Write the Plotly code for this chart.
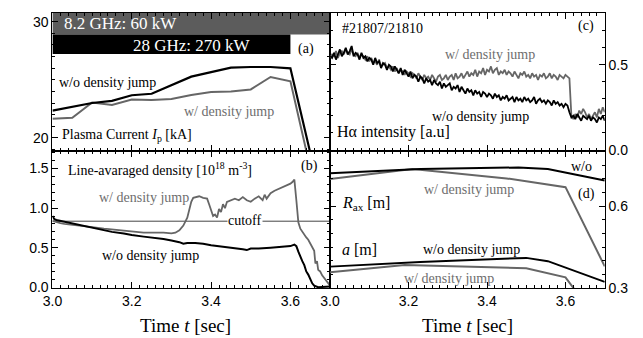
import plotly.graph_objects as go

W, H = 643, 338

# ---------------- data ----------------
# (a) plasma current [kA]
t_ip_wo = [3.00, 3.05, 3.10, 3.15, 3.20, 3.25, 3.30, 3.35, 3.40, 3.45, 3.50, 3.55, 3.60, 3.655]
ip_wo = [22.35, 22.69, 23.00, 23.19, 23.67, 23.80, 24.50, 25.27, 25.66, 26.05, 26.10, 26.10, 25.99, 18.0]
t_ip_w = [3.00, 3.05, 3.10, 3.15, 3.20, 3.25, 3.30, 3.35, 3.40, 3.45, 3.50, 3.55, 3.60, 3.646]
ip_w = [21.65, 21.74, 23.05, 22.83, 23.30, 23.25, 23.34, 23.70, 23.95, 24.00, 24.17, 25.24, 24.87, 18.0]
heating_82 = [3.0, 3.7]     # 8.2 GHz: 60 kW
heating_28 = [3.0, 3.6]     # 28 GHz: 270 kW

# (b) line-averaged density [1e18 m^-3]
t_n_w = [3.00, 3.01, 3.02, 3.03, 3.05, 3.08, 3.10, 3.13, 3.15, 3.18, 3.20, 3.23, 3.25, 3.28, 3.30,
         3.31, 3.32, 3.33, 3.34, 3.345, 3.35, 3.355, 3.36, 3.37, 3.38, 3.39, 3.395, 3.40, 3.405,
         3.41, 3.415, 3.42, 3.425, 3.43, 3.435, 3.44, 3.45, 3.46, 3.47, 3.48, 3.49, 3.50, 3.51,
         3.52, 3.53, 3.535, 3.54, 3.55, 3.56, 3.57, 3.58, 3.59, 3.60, 3.605, 3.61, 3.615, 3.62,
         3.625, 3.63, 3.64, 3.645, 3.65, 3.655, 3.66, 3.663, 3.667, 3.67, 3.675, 3.68, 3.69,
         3.695, 3.70]
n_w = [0.84, 0.82, 0.81, 0.80, 0.79, 0.77, 0.76, 0.74, 0.73, 0.71, 0.70, 0.69, 0.69, 0.69, 0.68,
       0.69, 0.72, 0.78, 0.88, 0.98, 1.08, 1.13, 1.14, 1.15, 1.13, 1.12, 1.05, 0.98, 0.90,
       0.92, 0.88, 0.99, 0.95, 1.05, 1.00, 1.08, 1.10, 1.12, 1.10, 1.14, 1.10, 1.08, 1.12,
       1.15, 1.10, 1.17, 1.12, 1.19, 1.22, 1.24, 1.26, 1.29, 1.31, 1.33, 1.36, 1.10, 0.82,
       0.74, 0.70, 0.63, 0.60, 0.55, 0.50, 0.46, 0.30, 0.33, 0.22, 0.20, 0.15, 0.08,
       0.04, 0.02]
t_n_wo = [3.00, 3.005, 3.01, 3.02, 3.05, 3.08, 3.10, 3.13, 3.15, 3.18, 3.20, 3.23, 3.25, 3.28,
          3.30, 3.32, 3.33, 3.34, 3.36, 3.38, 3.40, 3.42, 3.45, 3.48, 3.49, 3.50, 3.52, 3.55,
          3.58, 3.60, 3.61, 3.615, 3.62, 3.625, 3.63, 3.635, 3.64, 3.645, 3.65, 3.655, 3.66,
          3.67, 3.70]
n_wo = [0.90, 0.86, 0.85, 0.84, 0.80, 0.77, 0.75, 0.72, 0.70, 0.68, 0.66, 0.64, 0.63, 0.61,
        0.59, 0.57, 0.55, 0.56, 0.56, 0.55, 0.53, 0.52, 0.50, 0.48, 0.47, 0.49, 0.49, 0.50,
        0.51, 0.52, 0.54, 0.52, 0.45, 0.38, 0.33, 0.28, 0.20, 0.16, 0.10, 0.05, 0.02,
        0.00, 0.01]
cutoff_density = 0.835

# (c) H-alpha intensity [a.u.], sampled every 5 ms from 3.000 s to 3.700 s
t_ha = [round(3.0 + 0.005 * i, 3) for i in range(141)]
ha_wo = [0.55, 0.54, 0.57, 0.53, 0.56, 0.59, 0.55, 0.57, 0.60, 0.56, 0.58,
         0.61, 0.55, 0.57, 0.56, 0.53, 0.57, 0.54, 0.55, 0.52, 0.54,
         0.53, 0.50, 0.54, 0.51, 0.52, 0.48, 0.51, 0.50, 0.47, 0.50,
         0.49, 0.46, 0.49, 0.47, 0.45, 0.48, 0.44, 0.47, 0.45, 0.43,
         0.46, 0.42, 0.44, 0.43, 0.40, 0.43, 0.42, 0.39, 0.42, 0.40,
         0.41, 0.38, 0.41, 0.39, 0.38, 0.40, 0.36, 0.39, 0.37, 0.38,
         0.39, 0.35, 0.37, 0.36, 0.38, 0.34, 0.37, 0.35, 0.33, 0.36,
         0.34, 0.35, 0.32, 0.35, 0.33, 0.34, 0.31, 0.34, 0.33, 0.31,
         0.33, 0.32, 0.30, 0.33, 0.31, 0.32, 0.29, 0.31, 0.30, 0.32,
         0.29, 0.30, 0.31, 0.28, 0.31, 0.29, 0.30, 0.28, 0.31, 0.29,
         0.30, 0.28, 0.29, 0.31, 0.27, 0.29, 0.30, 0.28, 0.29, 0.27,
         0.29, 0.28, 0.26, 0.29, 0.27, 0.28, 0.26, 0.27, 0.25, 0.27,
         0.26, 0.22, 0.19, 0.20, 0.18, 0.21, 0.19, 0.17, 0.20, 0.19,
         0.18, 0.20, 0.17, 0.19, 0.18, 0.16, 0.19, 0.18, 0.20, 0.17]
ha_w = [0.54, 0.56, 0.55, 0.58, 0.54, 0.57, 0.58, 0.56, 0.59, 0.57, 0.56,
        0.59, 0.56, 0.55, 0.57, 0.54, 0.56, 0.55, 0.53, 0.55, 0.52,
        0.54, 0.51, 0.52, 0.50, 0.53, 0.49, 0.50, 0.51, 0.48, 0.49,
        0.47, 0.49, 0.46, 0.48, 0.45, 0.47, 0.46, 0.44, 0.46, 0.45,
        0.43, 0.45, 0.44, 0.42, 0.45, 0.43, 0.41, 0.44, 0.42, 0.43,
        0.41, 0.44, 0.42, 0.40, 0.43, 0.44, 0.41, 0.42, 0.44, 0.41,
        0.43, 0.44, 0.41, 0.45, 0.42, 0.43, 0.45, 0.42, 0.44, 0.46,
        0.43, 0.45, 0.44, 0.47, 0.43, 0.46, 0.45, 0.48, 0.44, 0.47,
        0.46, 0.49, 0.45, 0.47, 0.48, 0.44, 0.46, 0.45, 0.47, 0.44,
        0.46, 0.45, 0.43, 0.46, 0.44, 0.42, 0.45, 0.44, 0.46, 0.43,
        0.44, 0.42, 0.45, 0.43, 0.44, 0.41, 0.44, 0.43, 0.45, 0.42,
        0.43, 0.45, 0.42, 0.44, 0.43, 0.41, 0.44, 0.43, 0.42, 0.44,
        0.43, 0.42, 0.20, 0.18, 0.21, 0.19, 0.23, 0.21, 0.24, 0.22,
        0.19, 0.21, 0.18, 0.20, 0.22, 0.19, 0.24, 0.21, 0.25, 0.22]

# (d) magnetic axis R_ax and minor radius a [m]
t_r_wo = [3.00, 3.23, 3.48, 3.555, 3.70]
r_wo = [0.721, 0.736, 0.742, 0.736, 0.694]
t_r_w = [3.00, 3.21, 3.45, 3.60, 3.70]
r_w = [0.700, 0.736, 0.702, 0.670, 0.380]
t_a_wo = [3.00, 3.23, 3.50, 3.555, 3.70]
a_wo = [0.379, 0.396, 0.411, 0.399, 0.323]
t_a_w = [3.00, 3.19, 3.50, 3.60, 3.62, 3.65]
a_w = [0.358, 0.385, 0.373, 0.340, 0.301, 0.25]

# ---------------- styling ----------------
BLACK = "#000000"
GRAY = "#666666"
TXTGRAY = "#6e6e6e"
SERIF = "Liberation Serif"
SANS = "Liberation Sans"


def px(x):
    return x / W


def py(y):
    return 1 - y / H


fig = go.Figure()


def line(x, y, color, width, xa, ya):
    fig.add_trace(go.Scatter(x=x, y=y, mode="lines", xaxis=xa, yaxis=ya,
                             line=dict(color=color, width=width), showlegend=False,
                             hoverinfo="skip"))


# (a)
line(t_ip_w, ip_w, GRAY, 2, "x", "y")
line(t_ip_wo, ip_wo, BLACK, 2.2, "x", "y")
# (b)
line([3.0, 3.7], [cutoff_density, cutoff_density], "#444444", 1, "x2", "y2")
line(t_n_w, n_w, GRAY, 1.8, "x2", "y2")
line(t_n_wo, n_wo, BLACK, 2, "x2", "y2")
# (c)
line(t_ha, ha_w, GRAY, 1.8, "x3", "y3")
line(t_ha, ha_wo, BLACK, 1.8, "x3", "y3")
# (d)
line(t_r_w, r_w, GRAY, 2, "x4", "y4")
line(t_r_wo, r_wo, BLACK, 2, "x4", "y4")
line(t_a_w, a_w, GRAY, 2, "x4", "y4")
line(t_a_wo, a_wo, BLACK, 2, "x4", "y4")

LX = [px(35), px(317)]
RX = [px(317), px(596)]
TY = [py(146), py(5)]
BY = [py(287), py(146)]

tickfont = dict(family=SANS, size=14, color=BLACK)


def xax(domain, anchor, labels):
    return dict(domain=domain, anchor=anchor, range=[3.0, 3.7], showgrid=False, zeroline=False,
                showline=True, linecolor=BLACK, linewidth=1, mirror="allticks",
                ticks="inside", ticklen=6, tickcolor=BLACK,
                tickvals=[3.0, 3.2, 3.4, 3.6], tickformat=".1f",
                showticklabels=labels, tickfont=tickfont,
                minor=dict(ticks="inside", ticklen=3, dtick=0.02, tick0=3.0, tickcolor=BLACK))


def yax(domain, anchor, rng, tickvals, minor_dtick, side="left", fmt=".1f"):
    return dict(domain=domain, anchor=anchor, range=rng, showgrid=False, zeroline=False,
                showline=True, linecolor=BLACK, linewidth=1, mirror="allticks",
                ticks="inside", ticklen=6, tickcolor=BLACK, side=side,
                tickvals=tickvals, tickformat=fmt, tickfont=tickfont,
                minor=dict(ticks="inside", ticklen=3, dtick=minor_dtick, tick0=0, tickcolor=BLACK))


fig.update_layout(
    width=W, height=H, margin=dict(l=0, r=0, t=0, b=0),
    paper_bgcolor="white", plot_bgcolor="white", showlegend=False,
    xaxis=xax(LX, "y", False),
    yaxis=yax(TY, "x", [18.91, 30.76], [20, 30], 1, fmt="d"),
    xaxis2=xax(LX, "y2", True),
    yaxis2=yax(BY, "x2", [-0.012, 1.728], [0.0, 0.5, 1.0, 1.5], 0.1),
    xaxis3=xax(RX, "y3", False),
    yaxis3=yax(TY, "x3", [-0.005, 0.805], [0.0, 0.5], 0.1, side="right"),
    xaxis4=xax(RX, "y4", True),
    yaxis4=yax(BY, "x4", [0.3, 0.804], [0.3, 0.6], 0.05, side="right"),
)

# heating bars
fig.add_shape(type="rect", xref="x", yref="y", x0=heating_82[0], x1=heating_82[1],
              y0=28.9, y1=30.76, fillcolor="#5c5c5c", line=dict(width=0), layer="below")
fig.add_shape(type="rect", xref="x", yref="y", x0=heating_28[0], x1=heating_28[1],
              y0=27.23, y1=28.9, fillcolor="#000000", line=dict(width=0), layer="below")


def ann(text, x, y, color=BLACK, size=14, xanchor="left", bg=None):
    d = dict(text=text, x=px(x), y=py(y), xref="paper", yref="paper", showarrow=False,
             xanchor=xanchor, yanchor="middle",
             font=dict(family=SERIF, size=size, color=color))
    if bg:
        d["bgcolor"] = bg
        d["borderpad"] = 0
    fig.add_annotation(**d)


# (a)
ann("8.2 GHz: 60 kW", 45, 16, "white", 17)
ann("28 GHz: 270 kW", 115, 38, "white", 17)
ann("(a)", 293, 42, BLACK, 14, "center")
ann("w/o density jump", 40, 76, BLACK, 14)
ann("w/ density jump", 167, 106, TXTGRAY, 14)
ann("Plasma Current <i>I</i><sub>p</sub> [kA]", 43, 131, BLACK, 14)
# (b)
ann("Line-avaraged density [10<sup>18</sup> m<sup>-3</sup>]", 49, 165, BLACK, 14)
ann("(b)", 296, 162, BLACK, 14, "center")
ann("w/ density jump", 80, 194, TXTGRAY, 14)
ann("w/o density jump", 83, 254, BLACK, 14)
ann("cutoff", 231, 218, BLACK, 14, "center", bg="white")
# (c)
ann("#21807/21810", 327, 21, BLACK, 14)
ann("(c)", 577, 18, BLACK, 14, "center")
ann("w/ density jump", 432, 48, TXTGRAY, 14)
ann("w/o density jump", 419, 111, BLACK, 14)
ann("Hα intensity [a.u]", 322, 127, BLACK, 16)
# (d)
ann("w/o", 572, 162, BLACK, 14, "center")
ann("(d)", 577, 190, BLACK, 14, "center")
ann("w/ density jump", 410, 186, TXTGRAY, 14)
ann("<i>R</i><sub>ax</sub> [m]", 327, 200, BLACK, 16)
ann("<i>a</i> [m]", 327, 247, BLACK, 16)
ann("w/o density jump", 409, 247, BLACK, 14)
ann("w/ density jump", 390, 277, TXTGRAY, 14)
# axis titles
ann("Time <i>t</i> [sec]", 170, 325, BLACK, 19, "center")
ann("Time <i>t</i> [sec]", 457, 325, BLACK, 19, "center")

fig.write_html("out.html")
